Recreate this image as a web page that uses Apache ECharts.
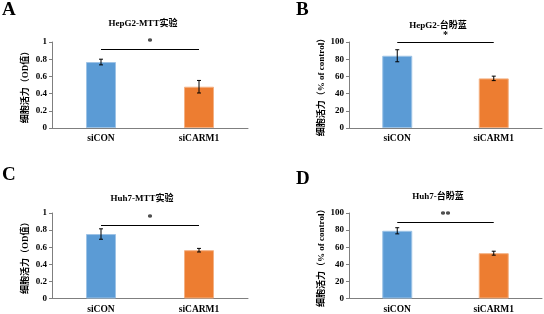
<!DOCTYPE html>
<html>
<head>
<meta charset="utf-8">
<script src="https://cdn.jsdelivr.net/npm/echarts@6/dist/echarts.min.js"></script>
<style>
  html, body { margin: 0; padding: 0; background: #fff; }
  #chart { width: 544px; height: 314px; }
</style>
</head>
<body>
<div id="chart"></div>
<script>
const categories = ['siCON', 'siCARM1'];

const hepg2MttMeans = [0.767, 0.48];
const hepg2MttErrors = [0.033, 0.073];
const hepg2MttSig = 0.91;

const hepg2BlueMeans = [84, 57.7];
const hepg2BlueErrors = [7, 2.6];
const hepg2BlueSig = 99.2;

const huh7MttMeans = [0.754, 0.565];
const huh7MttErrors = [0.061, 0.021];
const huh7MttSig = 0.857;

const huh7BlueMeans = [79.2, 53];
const huh7BlueErrors = [3.6, 2.3];
const huh7BlueSig = 89.2;

const odTicks = { min: 0, max: 1, interval: 0.2 };
const pctTicks = { min: 0, max: 100, interval: 20 };

const serif = "'Liberation Serif', 'Noto Sans CJK SC', serif";
const blue = '#5B9BD5';
const orange = '#ED7D31';

const chart = echarts.init(document.getElementById('chart'));

const panels = [
  { letter: 'A', title: 'HepG2-MTT实验', means: hepg2MttMeans, errors: hepg2MttErrors, sig: hepg2MttSig, star: '*',
    ticks: odTicks, yName: '细胞活力（OD值）', grid: { left: 52, top: 42, width: 196, height: 86 }, titleX: 143, titleY: 19, letterX: 2, letterY: 1 },
  { letter: 'B', title: 'HepG2-台盼蓝', means: hepg2BlueMeans, errors: hepg2BlueErrors, sig: hepg2BlueSig, star: '*',
    ticks: pctTicks, yName: '细胞活力（% of control）', grid: { left: 349, top: 42, width: 193, height: 86 }, titleX: 438, titleY: 21, letterX: 296, letterY: 1 },
  { letter: 'C', title: 'Huh7-MTT实验', means: huh7MttMeans, errors: huh7MttErrors, sig: huh7MttSig, star: '*',
    ticks: odTicks, yName: '细胞活力（OD值）', grid: { left: 52, top: 213, width: 196, height: 87 }, titleX: 142, titleY: 194, letterX: 2, letterY: 166 },
  { letter: 'D', title: 'Huh7-台盼蓝', means: huh7BlueMeans, errors: huh7BlueErrors, sig: huh7BlueSig, star: '**',
    ticks: pctTicks, yName: '细胞活力（% of control）', grid: { left: 349, top: 213, width: 193, height: 87 }, titleX: 438, titleY: 192, letterX: 296, letterY: 170 }
];

function renderErrorBar(params, api) {
  const x = api.value(0);
  const top = api.coord([x, api.value(2)]);
  const bottom = api.coord([x, api.value(1)]);
  const half = 2;
  const style = { stroke: '#000', lineWidth: 1 };
  return {
    type: 'group',
    children: [
      { type: 'line', shape: { x1: top[0], y1: top[1], x2: bottom[0], y2: bottom[1] }, style },
      { type: 'line', shape: { x1: top[0] - half, y1: top[1], x2: top[0] + half, y2: top[1] }, style },
      { type: 'line', shape: { x1: bottom[0] - half, y1: bottom[1], x2: bottom[0] + half, y2: bottom[1] }, style }
    ]
  };
}

const titles = [];
const grids = [];
const xAxes = [];
const yAxes = [];
const series = [];

panels.forEach((p, i) => {
  titles.push({
    text: p.letter, left: p.letterX, top: p.letterY, padding: 0,
    textStyle: { fontFamily: serif, fontWeight: 'bold', fontSize: 19, color: '#000' }
  });
  titles.push({
    text: p.title, left: p.titleX, top: p.titleY, textAlign: 'center', padding: 0,
    textStyle: { fontFamily: serif, fontWeight: 'bold', fontSize: 9, color: '#000' }
  });
  grids.push(p.grid);
  xAxes.push({
    type: 'category', gridIndex: i, data: categories,
    axisLine: { lineStyle: { color: '#7f7f7f', width: 1 } },
    axisTick: { alignWithLabel: true, length: 3, lineStyle: { color: '#7f7f7f' } },
    axisLabel: { fontFamily: serif, fontWeight: 'bold', fontSize: 9.5, color: '#000', margin: 6 }
  });
  yAxes.push({
    type: 'value', gridIndex: i, min: p.ticks.min, max: p.ticks.max, interval: p.ticks.interval,
    name: p.yName, nameLocation: 'middle', nameRotate: 90, nameGap: 22,
    nameTextStyle: { fontFamily: serif, fontWeight: 'bold', fontSize: 9, color: '#000' },
    splitLine: { show: false },
    axisLine: { show: true, lineStyle: { color: '#7f7f7f', width: 1 } },
    axisTick: { show: true, length: 3, lineStyle: { color: '#7f7f7f' } },
    axisLabel: { fontFamily: serif, fontWeight: 'bold', fontSize: 9, color: '#000', margin: 5 }
  });
  series.push({
    type: 'bar', xAxisIndex: i, yAxisIndex: i, barWidth: 30,
    data: p.means.map((v, j) => ({
      value: v,
      itemStyle: { color: j === 0 ? blue : orange, borderColor: j === 0 ? '#9DC3E6' : '#F4B183', borderWidth: 1 }
    })),
    markLine: {
      silent: true, symbol: ['none', 'none'],
      lineStyle: { color: '#000', width: 1.2, type: 'solid' },
      label: { show: true, position: 'middle', formatter: p.star, fontFamily: serif, fontWeight: 'bold', fontSize: 10, color: '#000', distance: 2 },
      data: [[{ coord: [0, p.sig] }, { coord: [1, p.sig] }]]
    }
  });
  series.push({
    type: 'custom', xAxisIndex: i, yAxisIndex: i, silent: true,
    renderItem: renderErrorBar,
    encode: { x: 0, y: [1, 2] },
    data: p.means.map((v, j) => [j, v - p.errors[j], v + p.errors[j]]),
    z: 5
  });
});

chart.setOption({
  animation: false,
  backgroundColor: '#fff',
  title: titles,
  grid: grids,
  xAxis: xAxes,
  yAxis: yAxes,
  series: series
});
</script>
</body>
</html>
